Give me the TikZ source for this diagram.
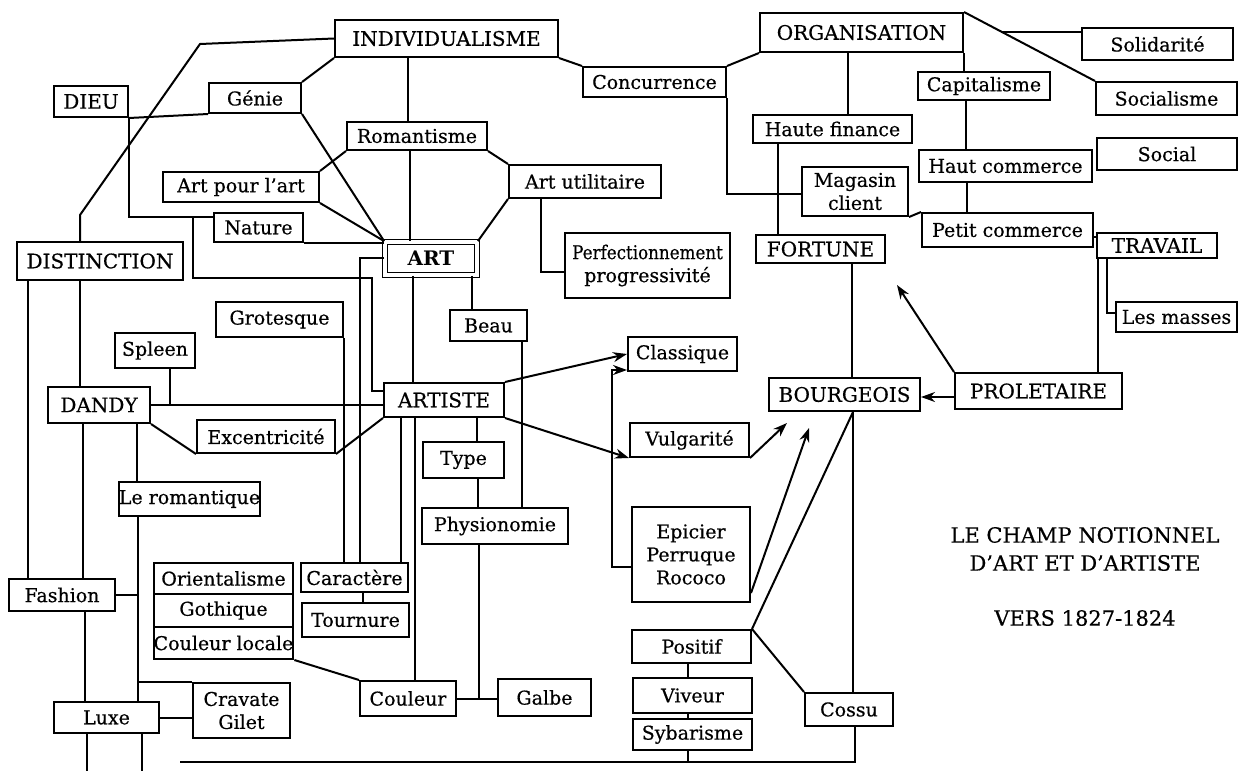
\documentclass[tikz,border=0pt]{standalone}
\usepackage{fontspec}
\setmainfont{DejaVu Serif}[UprightFeatures={FakeBold=0.5}]
\usetikzlibrary{arrows.meta}
\newcommand\lbl{\fontsize{9.5}{11.5}\selectfont}
\newcommand\uc{\fontsize{10}{12}\selectfont}
\newcommand\mkbox[6]{\node[bx, minimum width={(#4-#2)*0.5pt}, minimum height={(#5-#3)*0.5pt}] (#1) at ({(#2+#4)/2},{(#3+#5)/2}) {#6};}
\begin{document}
\begin{tikzpicture}[x=0.5pt,y=-0.5pt,
  bx/.style={draw, line width=1pt, inner sep=0pt, font=\lbl, align=center},
  ln/.style={line width=1pt},
  arr/.style={line width=1pt, -{Stealth[length=7pt,width=5pt]}},
  ttl/.style={font=\fontsize{10.5}{12}\selectfont}]
\useasboundingbox (0,0) rectangle (1238,771);
% ---------- boxes ----------
\mkbox{indiv}{335}{20}{558}{57}{\uc INDIVIDUALISME}
\mkbox{dieu}{54}{86}{128}{117}{\uc DIEU}
\mkbox{genie}{209}{83}{301}{113}{Génie}
\mkbox{roman}{347}{122}{487}{150}{Romantisme}
\mkbox{apa}{163}{172}{319}{202}{Art pour l'art}
\mkbox{nature}{214}{213}{303}{242}{Nature}
\mkbox{distinction}{17}{242}{183}{280}{\uc DISTINCTION}
\node[draw, line width=0.9pt, double, double distance=1.6pt, inner sep=0pt,
  minimum width=46pt, minimum height=16.5pt, font=\uc\bfseries] (art) at (431,258.5) {ART};
\mkbox{artutil}{509}{165}{661}{198}{Art utilitaire}
\mkbox{concurrence}{583}{67}{726}{97}{Concurrence}
\mkbox{org}{760}{13}{963}{52}{\uc ORGANISATION}
\mkbox{hautefin}{753}{115}{912}{143}{Haute finance}
\mkbox{magasin}{802}{167}{908}{216}{Magasin\\client}
\mkbox{fortune}{756}{235}{885}{263}{\uc FORTUNE}
\mkbox{capital}{918}{72}{1050}{100}{Capitalisme}
\mkbox{hautcom}{919}{150}{1092}{182}{Haut commerce}
\mkbox{petitcom}{922}{213}{1093}{247}{Petit commerce}
\mkbox{solid}{1082}{28}{1233}{60}{Solidarité}
\mkbox{socialisme}{1096}{82}{1237}{115}{Socialisme}
\mkbox{social}{1097}{138}{1237}{170}{Social}
\mkbox{travail}{1097}{233}{1217}{258}{\uc TRAVAIL}
\mkbox{masses}{1116}{302}{1237}{332}{Les masses}
\mkbox{prolet}{955}{373}{1122}{409}{\uc PROLETAIRE}
\mkbox{bourg}{769}{378}{920}{411}{\uc BOURGEOIS}
\mkbox{cossu}{805}{693}{893}{726}{Cossu}
\mkbox{positif}{632}{630}{751}{663}{Positif}
\mkbox{viveur}{633}{678}{752}{713}{Viveur}
\mkbox{sybar}{633}{719}{752}{750}{Sybarisme}
\mkbox{epicier}{632}{507}{750}{602}{Epicier\\Perruque\\Rococo}
\mkbox{classique}{628}{337}{737}{371}{Classique}
\mkbox{vulg}{630}{423}{749}{457}{Vulgarité}
\mkbox{perf}{565}{233}{730}{298}{\scalebox{0.88}[1]{Perfectionnement}\\progressivité}
\mkbox{beau}{450}{310}{527}{341}{Beau}
\mkbox{artiste}{384}{383}{504}{417}{\uc ARTISTE}
\mkbox{type}{423}{442}{504}{478}{Type}
\mkbox{physio}{422}{508}{568}{544}{Physionomie}
\mkbox{galbe}{498}{679}{591}{716}{Galbe}
\mkbox{couleur}{360}{681}{456}{716}{Couleur}
\mkbox{grotesque}{216}{302}{343}{337}{Grotesque}
\mkbox{spleen}{115}{333}{195}{368}{Spleen}
\mkbox{dandy}{48}{387}{150}{423}{\uc DANDY}
\mkbox{excent}{197}{420}{335}{453}{Excentricité}
\mkbox{leroman}{120}{482}{259}{516}{Le romantique}
\mkbox{fashion}{9}{579}{115}{611}{Fashion}
\mkbox{orient}{154}{563}{293}{594}{Orientalisme}
\mkbox{gothique}{154}{594}{293}{627}{Gothique}
\mkbox{coulloc}{154}{627}{293}{659}{Couleur locale}
\mkbox{caract}{301}{563}{408}{592}{Caractère}
\mkbox{tournure}{302}{603}{409}{637}{Tournure}
\mkbox{cravate}{193}{683}{290}{738}{Cravate\\Gilet}
\mkbox{luxe}{54}{702}{159}{733}{Luxe}
% ---------- title ----------
\node[ttl] (t1) at (1085,535) {LE CHAMP NOTIONNEL};
\node[ttl] (t2) at (1085,563) {D'ART ET D'ARTISTE};
\node[ttl] (t3) at (1085,618) {VERS 1827-1824};
% ---------- helper coordinates ----------
\coordinate (i1) at (200,44);
\coordinate (i2) at (80,215);
\coordinate (j1) at (193,217);
\coordinate (sol) at (1001,32);
\coordinate (tipA) at (787,423);
\coordinate (tipB) at (809,428);
\coordinate (tipC) at (897,285);
\coordinate (bend) at (180,762);
% ---------- connectors ----------
\begin{scope}[ln]
\draw (indiv.west) -- (i1) -- (i2) -- (80,0 |- distinction.north);
\draw (indiv.south west) -- (genie.north east);
\draw (408,0 |- indiv.south) -- (408,0 |- roman.north);
\draw (dieu.south east) -- (genie.south west);
\draw (dieu.south east) |- (nature.west |- j1);
\draw (nature.south east) -- (art.west |- nature.south east);
\draw (j1) |- (372,278) |- (artiste.west |- 0,391);
\draw (genie.south east) -- (art.north west);
\draw (apa.south east) -- (art.north west);
\draw (roman.south west) -- (apa.north east);
\draw (roman.south east) -- (artutil.north west);
\draw (artutil.south west) -- (art.north east);
\draw (541,0 |- artutil.south) |- (perf.west |- 0,272);
\draw (410,0 |- roman.south) -- (410,0 |- art.north);
\draw (413,0 |- art.south) -- (413,0 |- artiste.north);
\draw (472,0 |- art.south) -- (472,0 |- beau.north);
\draw (art.west |- 0,258) -| (360,0 |- caract.north);
\draw (grotesque.south east) -- (grotesque.south east |- caract.north);
\draw (401,0 |- artiste.south) -- (401,0 |- caract.north);
\draw (415,0 |- artiste.south) -- (415,0 |- couleur.north);
\draw (477,0 |- artiste.south) -- (477,0 |- type.north);
\draw (478,0 |- type.south) -- (478,0 |- physio.north);
\draw (522,0 |- beau.south) -- (522,0 |- physio.north);
\draw (479,0 |- physio.south) -- (479,0 |- couleur.east);
\draw (couleur.east) -- (galbe.west |- couleur.east);
\draw (coulloc.south east) -- (couleur.north west);
\draw (363,0 |- caract.south) -- (363,0 |- tournure.north);
\draw (positif.north east) -- (853,0 |- bourg.south);
\draw (positif.north east) -- (cossu.north west);
\draw (688,0 |- positif.south) -- (688,0 |- viveur.north);
\draw (688,0 |- viveur.south) -- (688,0 |- sybar.north);
\draw (688,0 |- sybar.south) -- (688,761);
\draw (855,0 |- cossu.south) |- (bend);
\draw (852,0 |- fortune.south) -- (852,0 |- bourg.north);
\draw (853,0 |- bourg.south) -- (853,0 |- cossu.north);
\draw (1098,0 |- travail.south) -- (1098,0 |- prolet.north);
\draw (1107,0 |- travail.south) |- (masses.west |- 0,313);
\draw (petitcom.east |- 0,237) -- (travail.west |- 0,237);
\draw (magasin.south east) -- (petitcom.north west);
\draw (966,0 |- capital.south) -- (966,0 |- hautcom.north);
\draw (967,0 |- hautcom.south) -- (967,0 |- petitcom.north);
\draw (org.south east) -- (org.south east |- capital.north);
\draw (org.north east) -- (socialisme.north west);
\draw (sol) -- (solid.west |- sol);
\draw (848,0 |- org.south) -- (848,0 |- hautefin.north);
\draw (778,0 |- hautefin.south) -- (778,0 |- fortune.north);
\draw (indiv.south east) -- (concurrence.north west);
\draw (concurrence.north east) -- (org.south west);
\draw (concurrence.south east) |- (magasin.west |- 0,194);
\draw (28,0 |- distinction.south) -- (28,0 |- fashion.north);
\draw (80,0 |- distinction.south) -- (80,0 |- dandy.north);
\draw (83,0 |- dandy.south) -- (83,0 |- fashion.north);
\draw (85,0 |- fashion.south) -- (85,0 |- luxe.north);
\draw (137,0 |- dandy.south) -- (137,0 |- leroman.north);
\draw (138,0 |- leroman.south) -- (138,0 |- luxe.north);
\draw (fashion.east) -- (138,0 |- fashion.east);
\draw (138,0 |- cravate.north) -- (cravate.north west);
\draw (luxe.east) -- (cravate.west |- luxe.east);
\draw (87,0 |- luxe.south) -- (87,771);
\draw (142,0 |- luxe.south) -- (142,771);
\draw (dandy.east) -- (artiste.west |- dandy.east);
\draw (170,0 |- spleen.south) -- (170,0 |- dandy.east);
\draw (dandy.south east) -- (excent.south west);
\draw (excent.south east) -- (artiste.south west);
\end{scope}
% ---------- arrows ----------
\draw[arr] (artiste.north east) -- (classique.west);
\draw[arr] (artiste.south east) -- (vulg.south west);
\draw[arr] (vulg.south east) -- (tipA);
\draw[arr] ([yshift=5pt]epicier.south east) -- (tipB);
\draw[arr] (epicier.west |- 0,567) -| (612,370) -- (classique.west |- 0,370);
\draw[arr] (prolet.west |- 0,397) -- (bourg.east |- 0,397);
\draw[arr] (prolet.north west) -- (tipC);
\end{tikzpicture}
\end{document}
